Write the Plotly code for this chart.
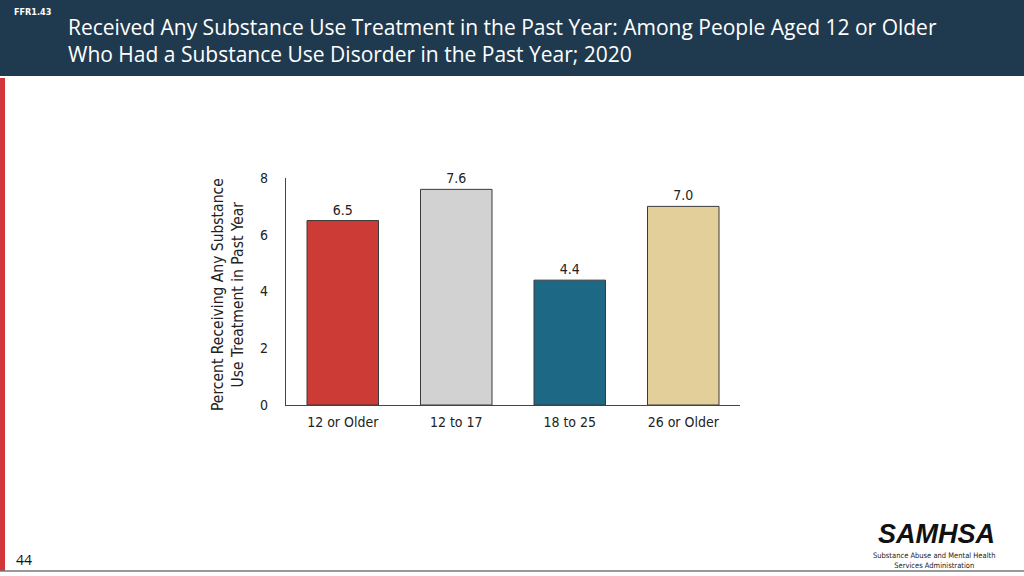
import plotly.graph_objects as go

categories = ["12 or Older", "12 to 17", "18 to 25", "26 or Older"]
values = [6.5, 7.6, 4.4, 7.0]
bar_colors = ["#CC3B35", "#D2D2D2", "#1D6884", "#E2CF99"]
y_ticks = [0, 2, 4, 6, 8]

W, H = 1024, 576
L, R, T, B = 286, 740, 178, 405
NARROW = "DejaVu Sans Condensed, Liberation Sans Narrow, Arial Narrow, sans-serif"

def px(x):
    return (x - L) / (R - L)

def py(y):
    return (B - y) / (B - T)

fig = go.Figure(go.Bar(
    x=categories, y=values,
    marker=dict(color=bar_colors, line=dict(color="#3a3a3a", width=1)),
    text=[f"{v:.1f}" for v in values], textposition="outside",
    textfont=dict(family=NARROW, size=14, color="#222"),
    cliponaxis=False, width=0.63,
))

shapes = [
    dict(type="rect", xref="paper", yref="paper", x0=px(0), x1=px(W), y0=py(0), y1=py(76),
         fillcolor="#1F3A4F", line_width=0, layer="below"),
    dict(type="rect", xref="paper", yref="paper", x0=px(0), x1=px(5), y0=py(78), y1=py(571),
         fillcolor="#D2353A", line_width=0, layer="below"),
    dict(type="line", xref="paper", yref="paper", x0=px(0), x1=px(W), y0=py(571), y1=py(571),
         line=dict(color="#777", width=1.5)),
]

annotations = [
    dict(text="<b>FFR1.43</b>", x=px(12), y=py(12), xref="paper", yref="paper",
         xanchor="left", yanchor="middle", showarrow=False,
         font=dict(family=NARROW, size=9, color="white")),
    dict(text="Received Any Substance Use Treatment in the Past Year: Among People Aged 12 or Older<br>Who Had a Substance Use Disorder in the Past Year; 2020",
         x=px(66), y=py(40), xref="paper", yref="paper", xanchor="left", yanchor="middle",
         align="left", showarrow=False,
         font=dict(family="Open Sans, Noto Sans, sans-serif", size=21, weight=500, color="white")),
    dict(text="Percent Receiving Any Substance<br>Use Treatment in Past Year",
         x=px(228), y=py(295), xref="paper", yref="paper", xanchor="center", yanchor="middle",
         textangle=-90, showarrow=False,
         font=dict(family=NARROW, size=15.5, color="#222")),
    dict(text="44", x=px(14), y=py(559), xref="paper", yref="paper", xanchor="left", yanchor="middle",
         showarrow=False, font=dict(family="Open Sans, sans-serif", size=14, color="#111")),
    dict(text="<b><i>SAMHSA</i></b>", x=px(936), y=py(534), xref="paper", yref="paper",
         xanchor="center", yanchor="middle", showarrow=False,
         font=dict(family="Liberation Sans, Arial, sans-serif", size=27, color="#111")),
    dict(text="Substance Abuse and Mental Health<br>Services Administration", x=px(934), y=py(560),
         xref="paper", yref="paper", xanchor="center", yanchor="middle", showarrow=False,
         font=dict(family=NARROW, size=7.5, color="#222")),
]

fig.update_layout(
    width=W, height=H, margin=dict(l=L, r=W - R, t=T, b=H - B, autoexpand=False),
    paper_bgcolor="white", plot_bgcolor="white", showlegend=False,
    shapes=shapes, annotations=annotations,
    xaxis=dict(range=[-0.5, 3.5], showline=True, linecolor="#444", linewidth=1.2,
               ticks="", showgrid=False, ticklabelstandoff=4,
               tickfont=dict(family=NARROW, size=14, color="#222")),
    yaxis=dict(range=[0, 8], tickvals=y_ticks, showline=True, linecolor="#444", linewidth=1.2,
               ticks="", showgrid=False, zeroline=False, ticklabelstandoff=14,
               tickfont=dict(family=NARROW, size=14, color="#222")),
)

fig.write_html("out.html", config={"displayModeBar": False},
               post_script="document.body.style.margin='0';document.body.style.padding='0';")
